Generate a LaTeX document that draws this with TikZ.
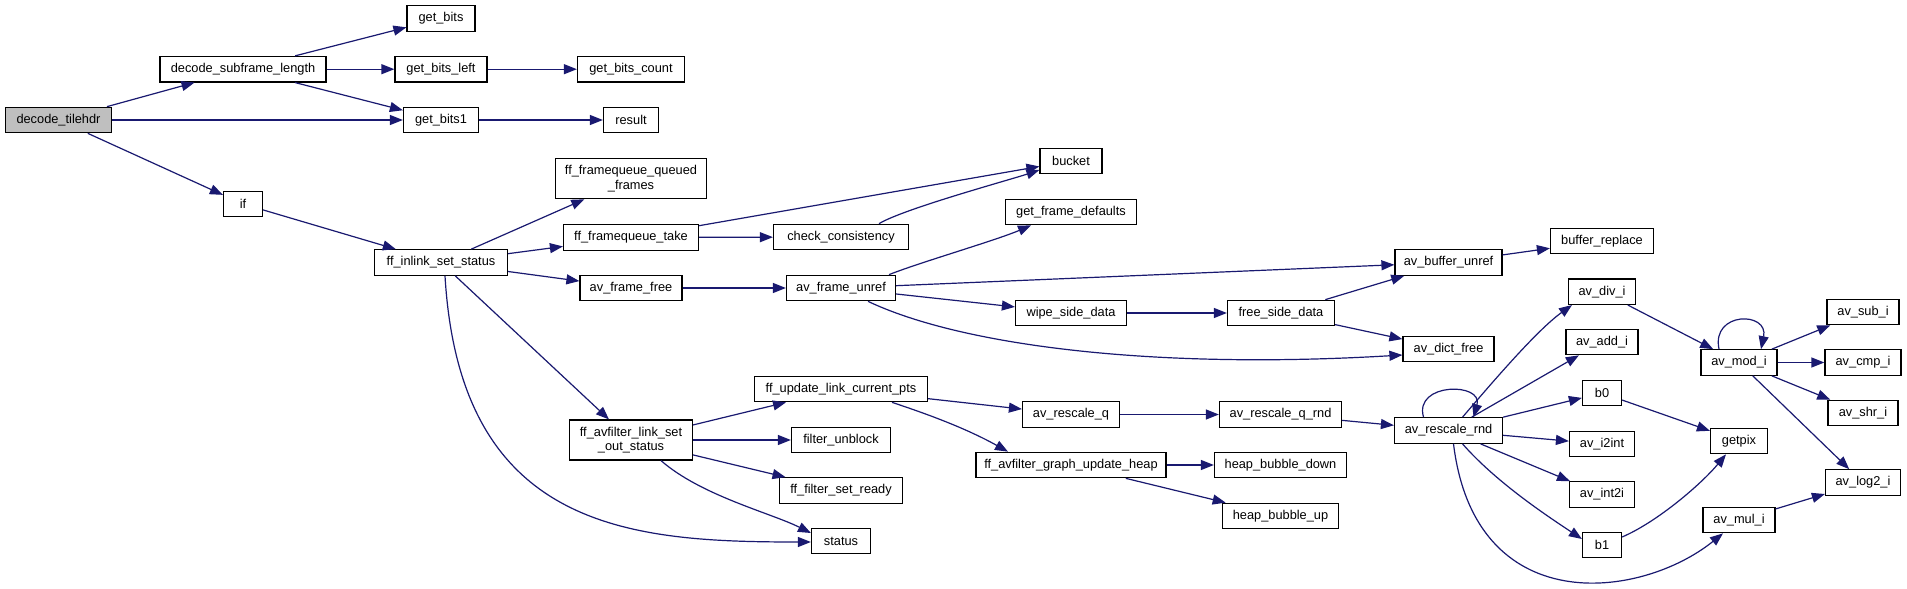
\documentclass[tikz,border=0pt]{standalone}
\usepackage{fontspec}
\setmainfont{Liberation Sans}
\usetikzlibrary{arrows.meta}
\definecolor{callblue}{HTML}{191970}
\definecolor{rootgray}{HTML}{BFBFBF}
\begin{document}
\begin{tikzpicture}[x=1pt, y=-1pt, >={Triangle[length=13pt, width=10pt]},
  fn/.style={draw=black, line width=1.2pt, fill=white, minimum height=25.5pt, inner xsep=3pt, inner ysep=1pt, align=center, font=\fontsize{12.8}{14.5}\selectfont},
  call/.style={->, draw=callblue, line width=1.2pt}]
  \useasboundingbox[fill=white] (0,0) rectangle (1907,589);
  % left part
  \node[fn, fill=rootgray, minimum width=106pt] (tilehdr) at (58.5,120) {decode\_tilehdr};
  \node[fn, minimum width=166pt] (subframe) at (243,69.2) {decode\_subframe\_length};
  \node[fn, minimum width=68pt] (getbits) at (441,18.5) {get\_bits};
  \node[fn, minimum width=92pt] (bitsleft) at (441,69.2) {get\_bits\_left};
  \node[fn, minimum width=107pt] (bitscount) at (631,69.2) {get\_bits\_count};
  \node[fn, minimum width=75pt] (getbits1) at (441,120) {get\_bits1};
  \node[fn, minimum width=55pt] (result) at (631,120) {result};
  \node[fn, minimum width=39pt] (ifn) at (243,204) {if};
  \node[fn, minimum width=133pt] (inlink) at (441,262.5) {ff\_inlink\_set\_status};
  \node[fn, minimum width=151pt, minimum height=40pt] (queued) at (631,178.7) {ff\_framequeue\_queued\\\_frames};
  \node[fn, minimum width=135pt] (take) at (631,237.5) {ff\_framequeue\_take};
  \node[fn, minimum width=102pt] (ffree) at (631,288) {av\_frame\_free};
  \node[fn, minimum width=123pt, minimum height=40pt] (outstatus) at (631,440) {ff\_avfilter\_link\_set\\\_out\_status};
  % middle part
  \node[fn, minimum width=62pt] (bucket) at (1071,161) {bucket};
  \node[fn, minimum width=135pt] (check) at (841,237) {check\_consistency};
  \node[fn, minimum width=131pt] (defaults) at (1071,212) {get\_frame\_defaults};
  \node[fn, minimum width=109pt] (unref) at (841,288) {av\_frame\_unref};
  \node[fn, minimum width=111pt] (wipe) at (1071,313) {wipe\_side\_data};
  \node[fn, minimum width=107pt] (freeside) at (1281,313) {free\_side\_data};
  \node[fn, minimum width=173pt] (updpts) at (841,389) {ff\_update\_link\_current\_pts};
  \node[fn, minimum width=99pt] (unblock) at (841,440) {filter\_unblock};
  \node[fn, minimum width=123pt] (setready) at (841,490.5) {ff\_filter\_set\_ready};
  \node[fn, minimum width=59pt] (status) at (841,541) {status};
  \node[fn, minimum width=97pt] (rescaleq) at (1071,414.5) {av\_rescale\_q};
  \node[fn, minimum width=122pt] (qrnd) at (1280.5,414.5) {av\_rescale\_q\_rnd};
  \node[fn, minimum width=190pt] (heap) at (1071,465) {ff\_avfilter\_graph\_update\_heap};
  \node[fn, minimum width=132pt] (bdown) at (1280.5,465) {heap\_bubble\_down};
  \node[fn, minimum width=116pt] (bup) at (1280.5,516) {heap\_bubble\_up};
  % right part
  \node[fn, minimum width=107pt] (bufunref) at (1448.5,262.5) {av\_buffer\_unref};
  \node[fn, minimum width=103pt] (replace) at (1602,241) {buffer\_replace};
  \node[fn, minimum width=91pt] (dictfree) at (1448.5,349) {av\_dict\_free};
  \node[fn, minimum width=108pt] (rnd) at (1448.5,430.5) {av\_rescale\_rnd};
  \node[fn, minimum width=67pt] (divi) at (1602,291.7) {av\_div\_i};
  \node[fn, minimum width=72pt] (addi) at (1602,342) {av\_add\_i};
  \node[fn, minimum width=39pt] (bzero) at (1602,393) {b0};
  \node[fn, minimum width=65pt] (itoint) at (1602,444) {av\_i2int};
  \node[fn, minimum width=65pt] (inttoi) at (1602,494.5) {av\_int2i};
  \node[fn, minimum width=39pt] (bone) at (1602,545) {b1};
  \node[fn, minimum width=76pt] (modi) at (1739,362.5) {av\_mod\_i};
  \node[fn, minimum width=57pt] (getpix) at (1739,441) {getpix};
  \node[fn, minimum width=72pt] (muli) at (1739,520) {av\_mul\_i};
  \node[fn, minimum width=72pt] (subi) at (1863,312) {av\_sub\_i};
  \node[fn, minimum width=76pt] (cmpi) at (1863,362.5) {av\_cmp\_i};
  \node[fn, minimum width=70pt] (shri) at (1863,413) {av\_shr\_i};
  \node[fn, minimum width=75pt] (logi) at (1863,482.5) {av\_log2\_i};
  % calls
  \draw[call] (tilehdr) -- (subframe);
  \draw[call] (tilehdr) -- (getbits1);
  \draw[call] (tilehdr) -- (ifn);
  \draw[call] (subframe) -- (getbits);
  \draw[call] (subframe) -- (bitsleft);
  \draw[call] (subframe) -- (getbits1);
  \draw[call] (bitsleft) -- (bitscount);
  \draw[call] (getbits1) -- (result);
  \draw[call] (ifn) -- (inlink);
  \draw[call] (inlink) -- (queued);
  \draw[call] (inlink) -- (take);
  \draw[call] (inlink) -- (ffree);
  \draw[call] (inlink) -- (outstatus);
  \draw[call] ([xshift=4pt]inlink.south) .. controls +(15,255) and +(-180,0) .. ([yshift=-1pt]status.west);
  \draw[call] (take) -- (bucket);
  \draw[call] (take) -- (check);
  \draw[call] ([xshift=38pt]check.north) .. controls +(25,-15) and +(-30,10) .. ([yshift=-9pt]bucket.west);
  \draw[call] (ffree) -- (unref);
  \draw[call] ([xshift=48pt]unref.north) .. controls +(30,-12) and +(-35,15) .. ([xshift=-40pt]defaults.south);
  \draw[call] (unref) -- (bufunref);
  \draw[call] (unref) -- (wipe);
  \draw[call] ([xshift=27pt]unref.south) .. controls (960,345) and (1150,370) .. ([yshift=-6pt]dictfree.west);
  \draw[call] (wipe) -- (freeside);
  \draw[call] (freeside) -- (bufunref);
  \draw[call] (freeside) -- (dictfree);
  \draw[call] (bufunref) -- (replace);
  \draw[call] (outstatus) -- (updpts);
  \draw[call] (outstatus) -- (unblock);
  \draw[call] (outstatus) -- (setready);
  \draw[call] ([xshift=30pt]outstatus.south) .. controls +(40,35) and +(-40,-20) .. ([yshift=8pt]status.west);
  \draw[call] (updpts) -- (rescaleq);
  \draw[call] ([xshift=51pt]updpts.south) .. controls +(30,10) and +(-45,-25) .. ([xshift=-63pt]heap.north);
  \draw[call] (rescaleq) -- (qrnd);
  \draw[call] (qrnd) -- (rnd);
  \draw[call] (heap) -- (bdown);
  \draw[call] (heap) -- (bup);
  \draw[call] ([xshift=-25pt]rnd.north) .. controls +(-10,-35) and +(10,-35) .. ([xshift=25pt]rnd.north);
  \draw[call] ([xshift=14pt]rnd.north) .. controls +(30,-35) and +(-35,25) .. ([xshift=-30pt]divi.south);
  \draw[call] (rnd) -- (addi);
  \draw[call] (rnd) -- (bzero);
  \draw[call] (rnd) -- (itoint);
  \draw[call] (rnd) -- (inttoi);
  \draw[call] ([xshift=14pt]rnd.south) .. controls +(35,40) and +(-30,-20) .. ([yshift=6pt]bone.west);
  \draw[call] ([xshift=5pt]rnd.south) .. controls (1475,620) and (1640,600) .. ([xshift=-16pt]muli.south);
  \draw[call] (divi) -- (modi);
  \draw[call] (bzero) -- (getpix);
  \draw[call] ([yshift=8pt]bone.east) .. controls +(35,-15) and +(-25,30) .. ([xshift=-13pt]getpix.south);
  \draw[call] (muli) -- (logi);
  \draw[call] ([xshift=-20pt]modi.north) .. controls +(-8,-38) and +(8,-38) .. ([xshift=22pt]modi.north);
  \draw[call] (modi) -- (subi);
  \draw[call] (modi) -- (cmpi);
  \draw[call] (modi) -- (shri);
  \draw[call] (modi) -- (logi);
\end{tikzpicture}
\end{document}
